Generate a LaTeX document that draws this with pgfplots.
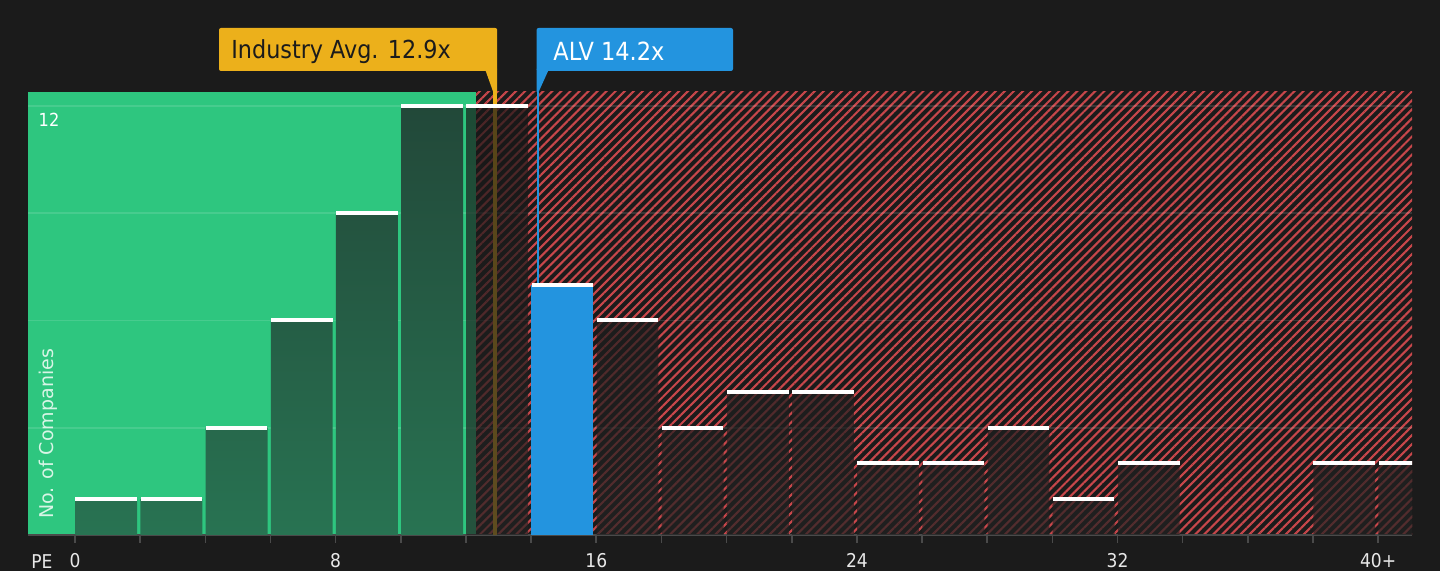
\documentclass[border=0pt]{standalone}
\usepackage{pgfplots}
\pgfplotsset{compat=1.18}
\usepackage{pgfplotstable}
\usepackage{fontspec}
\setmainfont{DejaVu Sans Condensed}
\newfontfamily\widefont{DejaVu Sans}
\usetikzlibrary{patterns.meta}
\definecolor{bgc}{HTML}{1B1B1B}
\definecolor{greenc}{HTML}{2EC67F}
\definecolor{goldc}{HTML}{ECB01B}
\definecolor{bluec}{HTML}{2394DF}
\definecolor{hatchc}{HTML}{C8474B}
\definecolor{axisgray}{HTML}{4A4A4A}
\definecolor{ticktext}{HTML}{E8E8E8}
\definecolor{gbartop}{HTML}{224839}
\definecolor{gbarbot}{HTML}{287352}
\definecolor{rbartop}{HTML}{171717}
\definecolor{rbarbot}{HTML}{222222}
\definecolor{ylab}{HTML}{D8F5E6}
\pagecolor{bgc}
% bars inside the green (undervalued) zone
\pgfplotstableread{
x y
1 1
3 1
5 3
7 6
9 9
11 12
}\gbars
% bars inside the red zone
\pgfplotstableread{
x y
13 12
17 6
19 3
21 4
23 4
25 2
27 2
29 3
31 1
33 2
39 2
41 2
}\rbars
\pgfplotstableread{
x y
15 7
}\alv
\begin{document}
\begin{tikzpicture}
\path (0,0) rectangle (720pt,285.5pt);
\begin{axis}[
  set layers,
  at={(14pt,18pt)}, anchor=south west,
  scale only axis, width=692pt, height=221.5pt,
  xmin=-1.443, xmax=41.04, ymin=0, ymax=12.39,
  clip marker paths=true,
  axis x line*=bottom, axis y line*=left,
  x axis line style={draw=axisgray, line width=1pt, -},
  y axis line style={draw=none},
  xtick={0,8,16,24,32,40}, xticklabels={0,8,16,24,32,40+},
  minor xtick={2,4,6,10,12,14,18,20,22,26,28,30,34,36,38},
  tick align=outside, major tick length=4pt, minor tick length=4pt,
  xtick style={draw=axisgray, line width=0.8pt},
  ytick={3,6,9,12}, yticklabels={}, ytick style={draw=none},
  ymajorgrids, grid style={draw=white, opacity=0.12, line width=0.8pt},
  xticklabel style={text=ticktext, font=\fontsize{9.5}{11}\selectfont, inner sep=0pt, yshift=-5.2pt},
]
\begin{pgfonlayer}{axis background}
\fill[greenc] (axis cs:-1.443,0) rectangle (axis cs:12.31,12.39);
\fill[pattern={Lines[angle=45, distance=3.2pt, line width=1.05pt]}, pattern color=hatchc] (axis cs:12.31,0) rectangle (axis cs:41.04,12.39);
\end{pgfonlayer}
\addplot[draw=goldc, line width=2pt] coordinates {(12.9,0) (12.9,12.39)};
\addplot[draw=bluec, line width=1pt] coordinates {(14.2,0) (14.2,12.39)};
\addplot[ybar, bar width=1.9, bar shift=-0.04, top color=gbartop, bottom color=gbarbot, draw=none] table {\gbars};
\addplot[ybar, bar width=1.9, bar shift=-0.04, top color=rbartop, bottom color=rbarbot, fill opacity=0.7, draw=none] table {\rbars};
\addplot[ybar, bar width=1.9, bar shift=-0.04, fill=bluec, draw=none] table {\alv};
\addplot[only marks, mark=-, mark size=15.4pt, mark options={draw=white, line width=2pt, xshift=-0.65pt}] table {\gbars};
\addplot[only marks, mark=-, mark size=15.4pt, mark options={draw=white, line width=2pt, xshift=-0.65pt}] table {\rbars};
\addplot[only marks, mark=-, mark size=15.4pt, mark options={draw=white, line width=2pt, xshift=-0.65pt}] table {\alv};
\node[rotate=90, text=ylab, font=\widefont\fontsize{9.5}{11}\selectfont] at (rel axis cs:0.01445,0.228) {No. of Companies};
\node[text=white, font=\fontsize{9}{10}\selectfont] at (rel axis cs:0.0152,0.937) {12};
\end{axis}
\node[overlay, text=ticktext, inner sep=0pt, font=\fontsize{9.5}{11}\selectfont] at (21pt,4.5pt) {PE};
% industry average label
\fill[goldc, rounded corners=1pt] (109.5pt,250pt) rectangle (248.6pt,271.5pt);
\fill[goldc] (242.5pt,251pt) -- (248.6pt,251pt) -- (248.6pt,239.5pt) -- (246.6pt,239.5pt) -- cycle;
\node[anchor=west, inner sep=0pt, text=bgc, font=\fontsize{12.4}{14}\selectfont] at (115.5pt,259.75pt) {Industry Avg. 12.9x};
% company label
\fill[bluec, rounded corners=1pt] (268.3pt,250pt) rectangle (366.5pt,271.5pt);
\fill[bluec] (268.3pt,251pt) -- (274.5pt,251pt) -- (269.3pt,239.5pt) -- (268.3pt,239.5pt) -- cycle;
\node[anchor=west, inner sep=0pt, text=white, font=\fontsize{12.5}{14}\selectfont] at (276.5pt,259.75pt) {ALV 14.2x};
\end{tikzpicture}
\end{document}
